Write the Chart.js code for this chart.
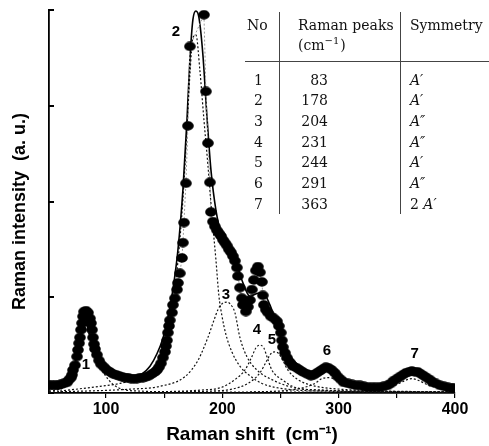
<!DOCTYPE html>
<html>
<head>
<meta charset="utf-8">
<script src="https://cdn.jsdelivr.net/npm/chart.js@4.4.1/dist/chart.umd.min.js"></script>
<style>
  html, body { margin: 0; padding: 0; background: #fff; }
</style>
</head>
<body>
<canvas id="ramanChart" width="489" height="446"></canvas>
<script>
// measured spectrum: Raman shift (cm-1) and intensity (a.u.)
const shiftObs = [51.0, 53.6, 56.2, 58.7, 61.3, 63.9, 66.5, 68.2, 69.9, 70.8, 71.6, 73.3, 75.1, 75.9, 76.8, 77.6, 78.5, 79.4, 80.2, 81.1,
  82.8, 84.5, 86.2, 87.1, 88.0, 88.8, 89.7, 90.5, 92.2, 94.0, 95.7, 98.3, 100.8, 103.4, 106.0, 108.6, 111.1, 113.7, 116.3, 118.9,
  121.4, 124.0, 126.6, 129.2, 131.8, 134.3, 136.9, 139.5, 142.1, 143.8, 145.5, 147.2, 148.9, 150.7, 151.5, 152.4, 153.2, 154.1, 154.9, 156.7,
  157.5, 159.2, 161.0, 161.8, 163.5, 165.3, 166.1, 167.0, 168.7, 170.4, 172.1, 184.2, 185.9, 187.6, 189.3, 190.2, 191.9, 193.6, 195.3, 197.0,
  198.8, 200.5, 202.2, 203.9, 205.6, 207.4, 209.1, 210.8, 212.5, 213.4, 215.1, 216.8, 217.7, 220.2, 222.0, 223.7, 225.4, 227.1, 228.8, 230.6,
  232.3, 234.0, 234.8, 235.7, 237.4, 239.1, 241.7, 244.3, 246.9, 248.6, 250.3, 251.2, 252.0, 253.8, 255.5, 258.0, 260.6, 264.1, 266.6, 269.2,
  272.6, 276.1, 278.7, 281.2, 283.8, 286.4, 289.0, 291.5, 294.1, 296.7, 299.3, 301.9, 304.4, 307.9, 311.3, 314.7, 318.2, 321.6, 325.1, 328.5,
  331.9, 335.4, 338.8, 342.2, 344.8, 347.4, 350.0, 352.5, 355.1, 357.7, 360.3, 362.9, 365.4, 368.0, 370.6, 373.2, 375.7, 378.3, 380.9, 383.5,
  386.9, 390.3, 393.8, 397.2, 398.9];
const intObs = [0.08, 0.08, 0.08, 0.08, 0.09, 0.10, 0.11, 0.14, 0.16, 0.19, 0.24, 0.29, 0.38, 0.45, 0.52, 0.58, 0.66, 0.73, 0.80, 0.85,
  0.86, 0.84, 0.78, 0.73, 0.66, 0.58, 0.51, 0.46, 0.40, 0.34, 0.30, 0.27, 0.24, 0.22, 0.20, 0.19, 0.18, 0.17, 0.16, 0.16,
  0.15, 0.15, 0.15, 0.16, 0.16, 0.17, 0.18, 0.20, 0.22, 0.24, 0.27, 0.31, 0.37, 0.43, 0.49, 0.55, 0.63, 0.70, 0.76, 0.84,
  0.92, 0.99, 1.08, 1.15, 1.25, 1.41, 1.57, 1.78, 2.19, 2.79, 3.62, 3.95, 3.15, 2.61, 2.20, 1.89, 1.79, 1.74, 1.70, 1.67,
  1.64, 1.60, 1.57, 1.54, 1.50, 1.47, 1.43, 1.38, 1.31, 1.22, 1.10, 0.99, 0.92, 0.85, 0.90, 0.97, 1.08, 1.18, 1.28, 1.32,
  1.26, 1.16, 1.02, 0.92, 0.87, 0.84, 0.80, 0.78, 0.75, 0.70, 0.63, 0.55, 0.48, 0.42, 0.37, 0.32, 0.28, 0.26, 0.24, 0.22,
  0.20, 0.18, 0.19, 0.21, 0.23, 0.25, 0.27, 0.26, 0.24, 0.21, 0.17, 0.14, 0.11, 0.10, 0.09, 0.08, 0.08, 0.07, 0.06, 0.06,
  0.06, 0.06, 0.07, 0.08, 0.10, 0.13, 0.15, 0.17, 0.19, 0.21, 0.22, 0.23, 0.22, 0.22, 0.20, 0.18, 0.16, 0.14, 0.11, 0.10,
  0.08, 0.07, 0.06, 0.05, 0.05];

// fitted envelope (solid line)
const shiftFit = [51, 60.5, 67.3, 72.5, 75.9, 79.4, 81.9, 84.5, 88.0, 92.2, 98.3, 105.1, 113.7, 122.3, 130.9, 137.8, 143.8, 148.9, 153.2, 157.5,
  161.8, 166.1, 169.6, 172.1, 174.7, 177.3, 179.9, 183.3, 186.7, 190.2, 194.5, 199.6, 206.5, 211.6, 216.8, 223.7, 229.7, 234.8, 240.9, 246.0,
  251.2, 258.0, 266.6, 275.2, 283.8, 290.7, 297.6, 306.2, 318.2, 331.1, 343.9, 356.0, 363.7, 373.2, 383.5, 399.8];
const intFit = [0.07, 0.08, 0.13, 0.26, 0.47, 0.66, 0.72, 0.68, 0.53, 0.37, 0.25, 0.19, 0.16, 0.16, 0.20, 0.28, 0.41, 0.57, 0.78, 1.08,
  1.49, 2.12, 2.85, 3.48, 3.90, 3.99, 3.92, 3.53, 2.90, 2.33, 1.91, 1.64, 1.49, 1.37, 1.18, 1.01, 1.04, 1.05, 0.92, 0.74,
  0.55, 0.39, 0.28, 0.23, 0.23, 0.25, 0.20, 0.14, 0.09, 0.08, 0.11, 0.18, 0.21, 0.17, 0.10, 0.07];

// fitted components 1..7 (dotted lines)
const comp1Shift = [51, 60.5, 67.3, 72.5, 75.9, 79.4, 81.9, 84.5, 88.0, 94.0, 99.1, 105.1, 113.7, 129.2, 180.7, 399.8];
const comp1Int = [0.02, 0.04, 0.10, 0.26, 0.45, 0.63, 0.69, 0.65, 0.50, 0.31, 0.19, 0.10, 0.04, 0.02, 0.01, 0.01];
const comp2Shift = [60.5, 94.8, 112.0, 129.2, 142.1, 150.7, 154.1, 157.5, 161.8, 166.1, 169.6, 172.1, 174.7, 177.3, 180.7, 184.2, 187.6, 191.0, 194.5, 197.0,
  199.6, 203.1, 208.2, 215.1, 223.7, 234.0, 249.5, 283.8, 399.8];
const comp2Int = [0.02, 0.07, 0.10, 0.16, 0.24, 0.39, 0.66, 0.95, 1.37, 2.02, 2.75, 3.32, 3.71, 3.74, 3.37, 2.85, 2.38, 1.86, 1.39, 1.02,
  0.81, 0.61, 0.43, 0.28, 0.18, 0.10, 0.05, 0.02, 0.01];
const comp3Shift = [51, 120.6, 146.4, 167.8, 179.0, 187.6, 192.8, 196.2, 199.6, 204.0, 207.4, 210.8, 215.1, 221.1, 229.7, 242.6, 259.8, 283.8, 399.8];
const comp3Int = [0.01, 0.04, 0.07, 0.17, 0.34, 0.58, 0.76, 0.87, 0.93, 0.95, 0.92, 0.84, 0.58, 0.38, 0.24, 0.14, 0.06, 0.03, 0.01];
const comp4Shift = [137.8, 180.7, 199.6, 210.8, 219.4, 225.4, 228.8, 232.3, 235.7, 238.3, 242.6, 251.2, 262.3, 283.8, 399.8];
const comp4Int = [0.01, 0.03, 0.06, 0.14, 0.24, 0.38, 0.47, 0.50, 0.47, 0.38, 0.24, 0.14, 0.06, 0.03, 0.01];
const comp5Shift = [137.8, 189.3, 208.2, 222.0, 232.3, 238.3, 241.7, 245.2, 248.6, 252.0, 256.3, 264.9, 277.0, 301.0, 399.8];
const comp5Int = [0.01, 0.02, 0.04, 0.10, 0.21, 0.34, 0.41, 0.43, 0.41, 0.34, 0.24, 0.14, 0.08, 0.04, 0.01];
const comp6Shift = [223.7, 258.0, 270.9, 279.5, 285.5, 290.7, 295.8, 301.9, 310.5, 326.8, 369.7];
const comp6Int = [0.01, 0.03, 0.06, 0.10, 0.15, 0.16, 0.15, 0.10, 0.06, 0.03, 0.01];
const comp7Shift = [301.0, 335.4, 348.4, 357.0, 362.9, 368.9, 377.4, 391.2, 399.8];
const comp7Int = [0.01, 0.04, 0.08, 0.13, 0.15, 0.13, 0.08, 0.04, 0.03];

// peak numbers written on the plot
const peakTags = ['1', '2', '3', '4', '5', '6', '7'];
const tagShift = [82.8, 160.1, 203.1, 229.7, 242.6, 289.8, 365.4];
const tagInt = [0.29, 3.77, 1.03, 0.66, 0.55, 0.44, 0.41];

// inset table
const tableNo = ['1', '2', '3', '4', '5', '6', '7'];
const tablePeak = ['83', '178', '204', '231', '244', '291', '363'];
const tableSym = ['A\u2032', 'A\u2032', 'A\u2033', 'A\u2033', 'A\u2032', 'A\u2033', '2 A\u2032'];

const xTicks = [100, 150, 200, 250, 300, 350, 400];
const yTicks = [0, 1, 2, 3, 4];

function toPoints(xs, ys) {
    const pts = [];
    for (let i = 0; i < xs.length; i++) {
        pts.push({ x: xs[i], y: ys[i] });
    }
    return pts;
}

// slightly flattened dot, like the markers in the figure
function makeDot() {
    const c = document.createElement('canvas');
    c.width = 12;
    c.height = 10;
    const g = c.getContext('2d');
    g.fillStyle = '#000';
    g.beginPath();
    g.ellipse(6, 5, 5.8, 4.7, 0, 0, Math.PI * 2);
    g.fill();
    return c;
}

function compSet(xs, ys) {
    return {
        data: toPoints(xs, ys),
        showLine: true,
        borderColor: '#111',
        borderWidth: 1.2,
        borderDash: [2, 2],
        pointRadius: 0,
        cubicInterpolationMode: 'monotone',
        fill: false
    };
}

const peakTagPlugin = {
    id: 'peakTags',
    afterDatasetsDraw(chart) {
        const ctx = chart.ctx;
        const xs = chart.scales.x;
        const ys = chart.scales.y;
        ctx.save();
        ctx.font = 'bold 15px "Liberation Sans", Arial, sans-serif';
        ctx.fillStyle = '#000';
        ctx.textAlign = 'center';
        ctx.textBaseline = 'middle';
        for (let i = 0; i < peakTags.length; i++) {
            ctx.fillText(peakTags[i], xs.getPixelForValue(tagShift[i]), ys.getPixelForValue(tagInt[i]));
        }
        ctx.restore();
    }
};

const tablePlugin = {
    id: 'peakTable',
    afterDraw(chart) {
        const ctx = chart.ctx;
        ctx.save();
        ctx.strokeStyle = '#444';
        ctx.lineWidth = 1;
        ctx.beginPath();
        ctx.moveTo(279.5, 12);
        ctx.lineTo(279.5, 214);
        ctx.moveTo(400.5, 12);
        ctx.lineTo(400.5, 214);
        ctx.moveTo(245, 61.5);
        ctx.lineTo(489, 61.5);
        ctx.stroke();

        const serif = '"DejaVu Serif", "Liberation Serif", serif';
        ctx.fillStyle = '#111';
        ctx.textBaseline = 'middle';
        ctx.font = '14px ' + serif;
        ctx.textAlign = 'left';
        ctx.fillText('No', 247, 26);
        ctx.fillText('Raman peaks', 298, 26);
        ctx.fillText('Symmetry', 410, 26);
        ctx.fillText('(cm', 298, 46);
        let w = ctx.measureText('(cm').width;
        ctx.font = '10px ' + serif;
        ctx.fillText('\u22121', 298 + w, 41);
        const w2 = ctx.measureText('\u22121').width;
        ctx.font = '14px ' + serif;
        ctx.fillText(')', 298 + w + w2 + 1, 46);

        for (let i = 0; i < tableNo.length; i++) {
            const y = 81 + i * 20.7;
            ctx.font = '14px ' + serif;
            ctx.textAlign = 'left';
            ctx.fillText(tableNo[i], 254, y);
            ctx.textAlign = 'right';
            ctx.fillText(tablePeak[i], 328, y);
            ctx.textAlign = 'left';
            const sym = tableSym[i];
            let x = 410;
            if (sym.indexOf(' ') > 0) {
                const lead = sym.split(' ')[0] + ' ';
                ctx.fillText(lead, x, y);
                x += ctx.measureText(lead).width;
            }
            ctx.font = 'italic 14px ' + serif;
            ctx.fillText(sym.split(' ').pop(), x, y);
        }
        ctx.restore();
    }
};

const sans = '"Liberation Sans", Arial, sans-serif';

new Chart(document.getElementById('ramanChart').getContext('2d'), {
    type: 'scatter',
    data: {
        datasets: [
            {
                label: 'measured',
                data: toPoints(shiftObs, intObs),
                showLine: true,
                borderColor: '#9a9a9a',
                borderWidth: 1,
                borderDash: [2, 2],
                pointStyle: makeDot(),
                pointRadius: 5,
                tension: 0
            },
            {
                label: 'fit',
                data: toPoints(shiftFit, intFit),
                showLine: true,
                borderColor: '#000',
                borderWidth: 1.6,
                pointRadius: 0,
                cubicInterpolationMode: 'monotone'
            },
            compSet(comp1Shift, comp1Int),
            compSet(comp2Shift, comp2Int),
            compSet(comp3Shift, comp3Int),
            compSet(comp4Shift, comp4Int),
            compSet(comp5Shift, comp5Int),
            compSet(comp6Shift, comp6Int),
            compSet(comp7Shift, comp7Int)
        ]
    },
    options: {
        responsive: false,
        animation: false,
        layout: { padding: { left: 0, right: 34, top: 10, bottom: 0 } },
        plugins: {
            legend: { display: false },
            tooltip: { enabled: false }
        },
        scales: {
            x: {
                type: 'linear',
                min: 51,
                max: 400,
                afterBuildTicks: function (scale) {
                    scale.ticks = xTicks.map(v => ({ value: v }));
                },
                afterFit: function (scale) {
                    scale.height = 53;
                },
                ticks: {
                    autoSkip: false,
                    maxRotation: 0,
                    padding: 2,
                    color: '#000',
                    font: { family: sans, weight: 'bold', size: 16 },
                    callback: v => (v % 100 === 0 ? String(v) : '')
                },
                grid: { drawOnChartArea: false, drawTicks: true, tickLength: 5, color: '#000', lineWidth: 1.2 },
                border: { display: true, color: '#000', width: 1.8 },
                title: {
                    display: true,
                    text: 'Raman shift  (cm\u207B\u00B9)',
                    color: '#000',
                    font: { family: sans, weight: 'bold', size: 19 },
                    padding: { top: 0, bottom: 0 }
                }
            },
            y: {
                min: 0,
                max: 4,
                afterBuildTicks: function (scale) {
                    scale.ticks = yTicks.map(v => ({ value: v }));
                },
                afterFit: function (scale) {
                    scale.width = 49;
                },
                ticks: { callback: () => '', padding: 0 },
                // small inward ticks, as in the figure
                grid: { drawOnChartArea: false, drawTicks: true, tickLength: -5, color: '#000', lineWidth: 2 },
                border: { display: true, color: '#000', width: 1.8 },
                title: {
                    display: true,
                    text: 'Raman intensity  (a. u.)    ',
                    color: '#000',
                    font: { family: sans, weight: 'bold', size: 18 },
                    padding: { top: 9, bottom: 0 }
                }
            }
        }
    },
    plugins: [peakTagPlugin, tablePlugin]
});
</script>
</body>
</html>
